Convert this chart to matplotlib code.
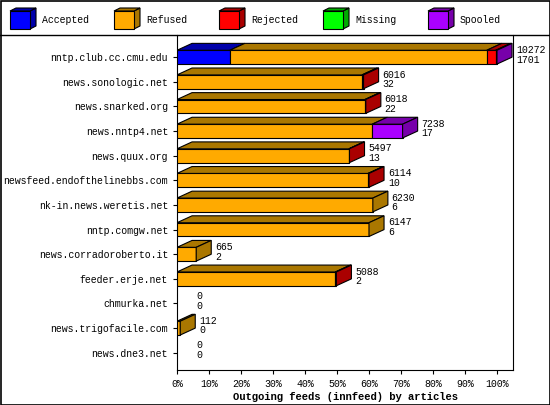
import matplotlib
matplotlib.use("Agg")
import matplotlib.pyplot as plt
from matplotlib.patches import Rectangle
import numpy as np

hosts = ["nntp.club.cc.cmu.edu", "news.sonologic.net", "news.snarked.org", "news.nntp4.net",
         "news.quux.org", "newsfeed.endofthelinebbs.com", "nk-in.news.weretis.net",
         "nntp.comgw.net", "news.corradoroberto.it", "feeder.erje.net", "chmurka.net",
         "news.trigofacile.com", "news.dne3.net"]
accepted = [16.5, 0, 0, 0, 0, 0, 0, 0, 0, 0, 0, 0, 0]
refused  = [80.3, 57.8, 58.7, 61.0, 53.7, 59.7, 61.2, 60.0, 6.0, 49.5, 0, 1.0, 0]
rejected = [2.8, 0.5, 0.3, 0, 0.2, 0.3, 0, 0, 0, 0.3, 0, 0, 0]
missing  = [0, 0, 0, 0, 0, 0, 0, 0, 0, 0, 0, 0, 0]
spooled  = [0.4, 0, 0, 9.5, 0, 0, 0, 0, 0, 0, 0, 0, 0]
totals   = ["10272", "6016", "6018", "7238", "5497", "6114", "6230", "6147", "665", "5088", "0", "112", "0"]
subs     = ["1701", "32", "22", "17", "13", "10", "6", "6", "2", "2", "0", "0", "0"]
names = ["Accepted", "Refused", "Rejected", "Missing", "Spooled"]
front = ["#0000FF", "#FFAA00", "#FF0000", "#00FF00", "#AA00FF"]
dark  = ["#0000AA", "#AA7700", "#AA0000", "#00AA00", "#7700AA"]

mono = ["Liberation Mono", "DejaVu Sans Mono"]
fs = 7.1
W, H = 550, 405
fig = plt.figure(figsize=(5.5, 4.05), dpi=100)
fig.patch.set_facecolor("white")
fig.add_artist(Rectangle((0.5/W, 0.5/H), 1-1/W, 1-1/H, transform=fig.transFigure, fill=False, lw=1.2, ec="black"))
fig.add_artist(plt.Line2D([0, 1], [1-35/H, 1-35/H], transform=fig.transFigure, color="black", lw=1))

lx = [10, 114, 219, 323, 428]
for i, n in enumerate(names):
    x0, y0 = lx[i], 8
    fig.add_artist(plt.Polygon([[(x0+20)/W, 1-(y0+3)/H], [(x0+26)/W, 1-(y0)/H], [(x0+26)/W, 1-(y0+18)/H], [(x0+20)/W, 1-(y0+21)/H]],
                               transform=fig.transFigure, fc=dark[i], ec="black", lw=0.8))
    fig.add_artist(plt.Polygon([[x0/W, 1-(y0+3)/H], [(x0+6)/W, 1-y0/H], [(x0+26)/W, 1-y0/H], [(x0+20)/W, 1-(y0+3)/H]],
                               transform=fig.transFigure, fc=dark[i], ec="black", lw=0.8))
    fig.add_artist(Rectangle((x0/W, 1-(y0+21)/H), 20/W, 18/H, transform=fig.transFigure, fc=front[i], ec="black", lw=0.8))
    fig.text((x0+32)/W, 1-(y0+12)/H, n, fontsize=fs, family=mono, va="center")

ax = fig.add_axes([177/W, 35/H, (513-177)/W, (370-35)/H])
ax.set_xlim(0, 105)
n = len(hosts)
ax.set_ylim(n - 0.3, -0.9)
dx, dy, h = 4.7, 0.28, 0.56
series = [accepted, refused, rejected, missing, spooled]
for r in range(n):
    left = 0
    last = None
    for s in range(5):
        v = series[s][r]
        if v <= 0:
            continue
        ax.barh(r, v, left=left, height=h, color=front[s], edgecolor="black", lw=0.8, zorder=3)
        yt = r - h/2
        ax.fill([left, left+dx, left+v+dx, left+v], [yt, yt-dy, yt-dy, yt], fc=dark[s], ec="black", lw=0.8, zorder=3)
        left += v
        last = s
    if last is not None:
        ax.fill([left, left+dx, left+dx, left], [r-h/2, r-h/2-dy, r+h/2-dy, r+h/2], fc=dark[last], ec="black", lw=0.8, zorder=4)
    ax.text(left + dx + 1.2, r - 0.1, totals[r] + "\n" + subs[r], fontsize=fs, family=mono,
            va="center", ha="left", linespacing=0.95, zorder=5)

ax.set_yticks(range(n))
ax.set_yticklabels(hosts, fontsize=fs, family=mono)
ax.set_xticks(range(0, 101, 10))
ax.set_xticklabels([f"{t}%" for t in range(0, 101, 10)], fontsize=fs, family=mono)
ax.tick_params(length=3, width=0.8)
ax.spines["top"].set_visible(False)
ax.set_xlabel("Outgoing feeds (innfeed) by articles", fontsize=7.6, family=mono, fontweight="bold", labelpad=2)
fig.savefig("out.png", dpi=100)
